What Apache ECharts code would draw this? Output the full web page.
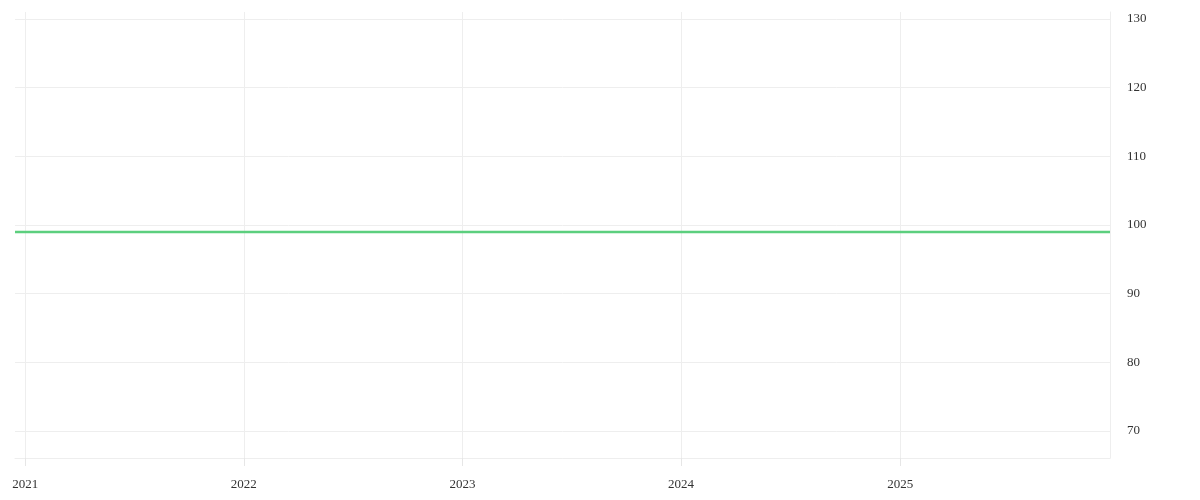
<!DOCTYPE html>
<html>
<head>
<meta charset="utf-8">
<script src="https://cdn.jsdelivr.net/npm/echarts@6/dist/echarts.min.js"></script>
<style>html,body{margin:0;padding:0;background:#fff}#c{width:1200px;height:500px}</style>
</head>
<body>
<div id="c"></div>
<script>
var dates = ['2020-12-15','2021-01-01','2022-01-01','2023-01-01','2024-01-01','2025-01-01','2025-12-17'];
var values = [99, 99, 99, 99, 99, 99, 99];
var yMin = 66.07, yMax = 131.02;
var xMin = '2020-12-15', xMax = '2025-12-17';

var chart = echarts.init(document.getElementById('c'));
var grid = '#eeeeee';
var none = 'rgba(0,0,0,0)';
var font = 'Liberation Serif';
chart.setOption({
  animation: false,
  grid: {left: 15, right: 90, top: 12, bottom: 42},
  xAxis: {
    type: 'time',
    min: xMin, max: xMax,
    minInterval: 365 * 24 * 3600 * 1000,
    axisLine: {show: true, lineStyle: {color: grid, width: 1}},
    axisTick: {show: true, length: 8, lineStyle: {color: '#e6e6e6', width: 1}},
    splitLine: {show: true, lineStyle: {color: [none, grid, grid, grid, grid, grid, grid], width: 1}},
    axisLabel: {
      showMinLabel: false, showMaxLabel: false,
      color: '#333', fontFamily: font, fontSize: 13, margin: 20,
      formatter: function (v) { return String(new Date(v).getFullYear()); }
    }
  },
  yAxis: {
    type: 'value',
    position: 'right',
    min: yMin, max: yMax,
    axisLine: {show: true, lineStyle: {color: grid}},
    axisTick: {show: false},
    splitLine: {show: true, lineStyle: {color: [grid, grid, grid, grid, grid, grid, grid, grid, none], width: 1}},
    axisLabel: {
      color: '#333', fontFamily: font, fontSize: 13, margin: 17,
      padding: [8, 0, 0, 0],
      formatter: function (v) { return (Math.abs(v % 10) < 1e-6) ? String(v) : ''; }
    }
  },
  series: [{
    type: 'line',
    data: dates.map(function (d, i) { return [d, values[i]]; }),
    showSymbol: false,
    lineStyle: {color: '#5ccf7e', width: 2.5}
  }]
});
</script>
</body>
</html>
